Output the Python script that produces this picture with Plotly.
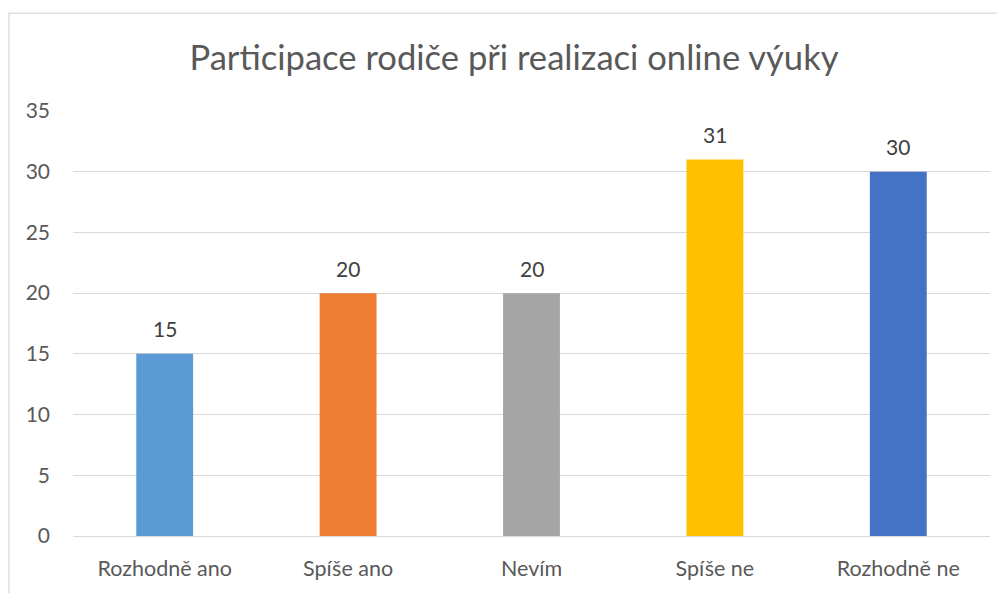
import plotly.graph_objects as go

categories = ["Rozhodně ano", "Spíše ano", "Nevím", "Spíše ne", "Rozhodně ne"]
values = [15, 20, 20, 31, 30]
colors = ["#5B9BD5", "#ED7D31", "#A5A5A5", "#FFC000", "#4472C4"]
y_ticks = [0, 5, 10, 15, 20, 25, 30, 35]
title_text = "Participace rodiče při realizaci online výuky"

FONT = "Lato, 'Open Sans', sans-serif"
TXT = "#595959"

fig = go.Figure(
    go.Bar(
        x=categories,
        y=values,
        marker=dict(color=colors, line=dict(width=0)),
        width=0.31,
        cliponaxis=False,
    )
)

# page body has an 8px margin, so the figure is sized/positioned accordingly
W, H = 997, 585
L, R, T, B = 65, 15, 103, 52
pw, ph = W - L - R, H - T - B

for c, v in zip(categories, values):
    fig.add_annotation(
        x=c, y=v, text=str(v), showarrow=False,
        xref="x", yref="y", yanchor="middle", yshift=25,
        font=dict(family=FONT, size=21, color="#404040"),
    )

fig.update_layout(
    width=W,
    height=H,
    margin=dict(l=L, r=R, t=T, b=B),
    paper_bgcolor="white",
    plot_bgcolor="white",
    showlegend=False,
    title=dict(
        text=title_text,
        x=(506 - L) / pw,
        xref="paper",
        xanchor="center",
        y=1 - 50 / H,
        yref="container",
        yanchor="middle",
        font=dict(family=FONT, size=34.6, color=TXT),
    ),
    xaxis=dict(
        showgrid=False,
        showline=False,
        ticks="",
        tickfont=dict(family=FONT, size=21.5, color=TXT),
        ticklabelstandoff=17,
    ),
    yaxis=dict(
        range=[0, 35],
        tickvals=y_ticks,
        showgrid=True,
        gridcolor="#D9D9D9",
        gridwidth=1.3,
        zeroline=True,
        zerolinecolor="#D9D9D9",
        zerolinewidth=1.3,
        showline=False,
        ticks="",
        tickfont=dict(family=FONT, size=21, color=TXT),
        ticklabelstandoff=22,
    ),
    shapes=[
        dict(
            type="rect",
            xref="paper",
            yref="paper",
            x0=(1 - L) / pw,
            x1=1.2,
            y0=-0.3,
            y1=(H - B - 4) / ph,
            line=dict(color="#D9D9D9", width=1.3),
            fillcolor="rgba(0,0,0,0)",
            layer="below",
        )
    ],
)

fig.write_html("out.html")
